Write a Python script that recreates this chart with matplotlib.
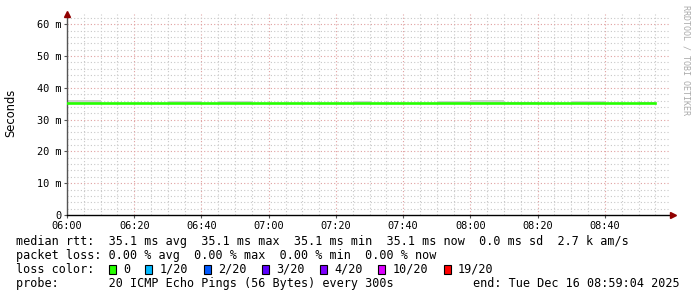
import matplotlib
matplotlib.use("Agg")
import matplotlib.pyplot as plt
from matplotlib.patches import Rectangle
import numpy as np

# minutes after 06:00, one step every 300 s
t_min = [0, 5, 10, 15, 20, 25, 30, 35, 40, 45, 50, 55, 60, 65, 70, 75, 80, 85,
         90, 95, 100, 105, 110, 115, 120, 125, 130, 135, 140, 145, 150, 155,
         160, 165, 170, 175]
# median rtt in ms (last entry just closes the final step)
median_ms = [35.1] * 34 + [35.3, 35.3]
# upper edge of the smoke (ms)
smoke_top = [36.1, 36.1, 35.2, 35.2, 35.2, 35.2, 35.7, 35.7, 35.2, 35.7,
             35.7, 35.2, 35.2, 35.2, 35.2, 35.2, 35.2, 35.7, 35.2, 35.2,
             35.2, 35.2, 35.9, 35.9, 36.3, 36.3, 35.5, 35.5, 35.2, 35.2,
             35.7, 35.7, 35.2, 35.2, 35.6, 35.6]
x_end = 179.07  # 08:59:04

xtick_pos = [0, 20, 40, 60, 80, 100, 120, 140, 160]
xtick_lab = ["06:00", "06:20", "06:40", "07:00", "07:20", "07:40", "08:00",
             "08:20", "08:40"]
ytick_pos = [0, 10, 20, 30, 40, 50, 60]
ytick_lab = ["0", "10 m", "20 m", "30 m", "40 m", "50 m", "60 m"]

loss_labels = ["0", "1/20", "2/20", "3/20", "4/20", "10/20", "19/20"]
loss_colors = ["#26ff00", "#00b8ff", "#0059ff", "#5e00ff", "#7e00ff",
               "#dd00ff", "#ff0000"]

W, H = 697, 297
fig = plt.figure(figsize=(W / 100, H / 100), dpi=100)
fig.patch.set_facecolor("white")
ax = fig.add_axes([67 / W, 82 / H, 602 / W, 201 / H])

t = np.array(t_min)
med = np.array(median_ms)
top = np.array(smoke_top)

ax.fill_between(t, med, top, step="post", color="#cfcfcf", lw=0, zorder=2)
ax.step(t, med, where="post", color=loss_colors[0], lw=1.9, zorder=3)

ax.set_xlim(0, x_end)
ax.set_ylim(0, 63.2)

# grids
for m in np.arange(0, x_end, 5):
    major = m % 20 == 0
    ax.axvline(m, color="#e0a0a0" if major else "#c8c8c8", lw=0.8,
               ls=(0, (1, 2)), zorder=1)
for v in np.arange(2, 63, 2):
    major = v % 10 == 0
    ax.axhline(v, color="#e0a0a0" if major else "#c8c8c8", lw=0.8,
               ls=(0, (1, 2)), zorder=1)

for s in ["top", "right"]:
    ax.spines[s].set_visible(False)
ax.spines["left"].set_color("#555555")
ax.spines["bottom"].set_color("#000000")
ax.spines["left"].set_linewidth(1)
ax.spines["bottom"].set_linewidth(1)
ax.spines["bottom"].set_bounds(0, x_end)

ax.set_xticks(xtick_pos)
ax.set_xticklabels(xtick_lab)
ax.set_yticks(ytick_pos)
ax.set_yticklabels(ytick_lab)
ax.tick_params(axis="both", length=2, width=0.8, color="#555555",
               labelsize=7.4, pad=2)
for lab in ax.get_xticklabels() + ax.get_yticklabels():
    lab.set_family("DejaVu Sans Mono")
    lab.set_color("#000000")

# arrows
ax.plot([0], [1.0], transform=ax.transAxes, marker="^", ms=4.5,
        color="#900000", clip_on=False, zorder=5)
ax.plot([1.006], [0], transform=ax.transAxes, marker=">", ms=4.5,
        color="#900000", clip_on=False, zorder=5)

fig.text(11 / W, 1 - 113 / H, "Seconds", rotation=90, ha="center",
         va="center", fontsize=8.3, family="DejaVu Sans")
fig.text(686 / W, 1 - 5 / H, "RRDTOOL / TOBI OETIKER", rotation=270,
         ha="center", va="top", fontsize=6, family="DejaVu Sans Mono",
         color="#aaaaaa")

mono = dict(family="DejaVu Sans Mono", fontsize=8.5, va="center")
x0 = 16 / W
fig.text(x0, 1 - 241.3 / H,
         "median rtt:  35.1 ms avg  35.1 ms max  35.1 ms min  35.1 ms now"
         "  0.0 ms sd  2.7 k am/s", **mono)
fig.text(x0, 1 - 255.3 / H,
         "packet loss: 0.00 % avg  0.00 % max  0.00 % min  0.00 % now", **mono)
fig.text(x0, 1 - 269.3 / H, "loss color:", **mono)
fig.text(x0, 1 - 283.7 / H,
         "probe:       20 ICMP Echo Pings (56 Bytes) every 300s", **mono)
fig.text(680 / W, 1 - 283.7 / H, "end: Tue Dec 16 08:59:04 2025",
         ha="right", family="DejaVu Sans Mono", fontsize=8.5, va="center")

bx = 108.5
for lab, col in zip(loss_labels, loss_colors):
    fig.patches.append(Rectangle((bx / W, 1 - 274 / H), 7 / W, 9.5 / H,
                                 transform=fig.transFigure, facecolor=col,
                                 edgecolor="black", lw=0.8))
    fig.text((bx + 14.5) / W, 1 - 269.3 / H, lab, **mono)
    bx = bx + 14.5 + len(lab) * 7.1 + 15.3

fig.savefig("out.png", dpi=100, facecolor="white")
